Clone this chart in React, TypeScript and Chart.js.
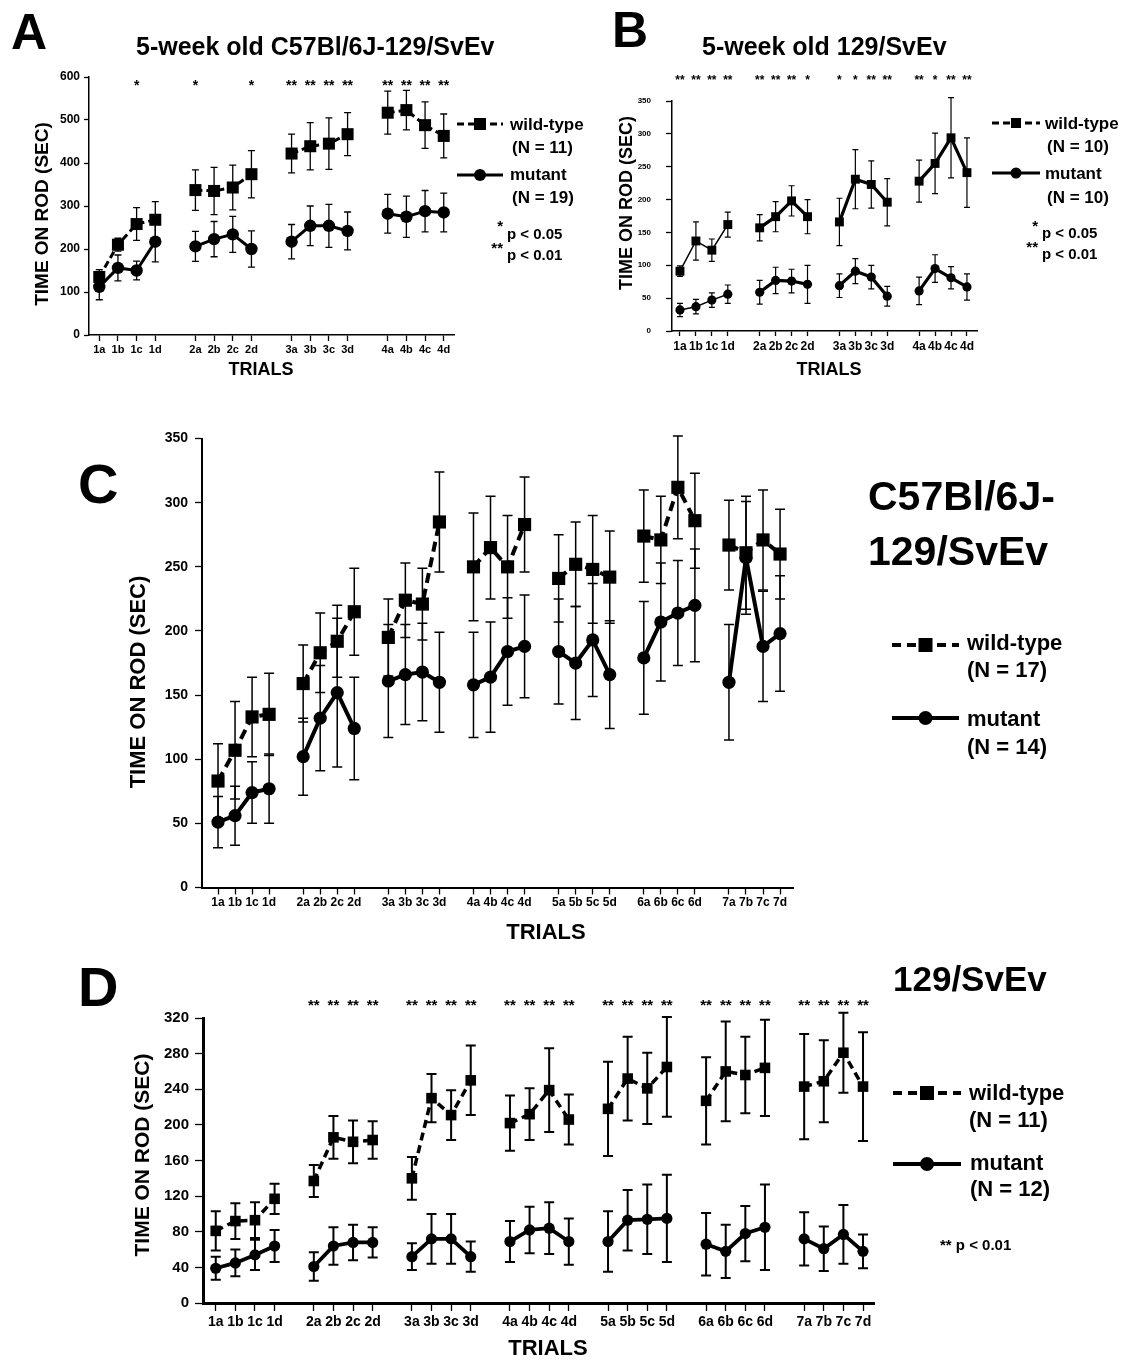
import React, { useEffect, useRef } from "react";
import { Chart, registerables } from "chart.js";
Chart.register(...registerables);

const FONT = '"Liberation Sans", Arial, Helvetica, sans-serif';
Chart.defaults.font.family = FONT;

// ---------------- DATA ----------------
const TRIALS_4 = ["1a","1b","1c","1d","2a","2b","2c","2d","3a","3b","3c","3d","4a","4b","4c","4d"];
const TRIALS_7 = ["1a","1b","1c","1d","2a","2b","2c","2d","3a","3b","3c","3d","4a","4b","4c","4d",
  "5a","5b","5c","5d","6a","6b","6c","6d","7a","7b","7c","7d"];

// Panel A: 5-week old C57Bl/6J-129/SvEv
const aWtMean = [135, 210, 258, 268, 337, 335, 343, 374, 422, 439, 445, 467, 517, 523, 488, 463];
const aWtErr = [17, 15, 38, 42, 47, 55, 52, 55, 45, 55, 60, 50, 50, 46, 54, 51];
const aMutMean = [112, 156, 150, 217, 206, 223, 234, 200, 217, 254, 254, 242, 282, 275, 288, 285];
const aMutErr = [30, 30, 22, 47, 35, 41, 42, 42, 40, 46, 50, 44, 45, 48, 48, 45];
const aStars = ["", "", "*", "", "*", "", "", "*", "**", "**", "**", "**", "**", "**", "**", "**"];
const aYTicks = { max: 600, step: 100 };

// Panel B: 5-week old 129/SvEv
const bWtMean = [91, 137, 123, 162, 157, 174, 198, 174, 166, 231, 223, 196, 228, 255, 294, 241];
const bWtErr = [8, 29, 17, 19, 20, 23, 23, 26, 36, 45, 36, 36, 32, 46, 61, 53];
const bMutMean = [32, 37, 47, 56, 59, 77, 76, 71, 69, 91, 82, 53, 61, 95, 81, 67];
const bMutErr = [10, 11, 11, 14, 18, 20, 18, 29, 18, 19, 18, 15, 21, 21, 17, 20];
const bStars = ["**", "**", "**", "**", "**", "**", "**", "*", "*", "*", "**", "**", "**", "*", "**", "**"];
const bYTicks = { max: 350, step: 50 };

// Panel C: C57Bl/6J-129/SvEv
const cWtMean = [83, 107, 133, 135, 159, 183, 192, 215, 195, 224, 221, 285, 250, 265, 250, 283,
  241, 252, 248, 242, 274, 271, 312, 286, 267, 261, 271, 260];
const cWtErr = [29, 38, 31, 32, 30, 31, 28, 34, 30, 29, 28, 39, 42, 40, 40, 37,
  34, 33, 42, 36, 36, 34, 40, 37, 35, 44, 39, 35];
const cMutMean = [51, 56, 74, 77, 102, 132, 152, 124, 161, 166, 168, 160, 158, 164, 184, 188,
  184, 175, 193, 166, 179, 207, 214, 220, 160, 257, 188, 198];
const cMutErr = [20, 23, 24, 27, 30, 41, 58, 40, 44, 39, 38, 39, 41, 43, 42, 40,
  41, 44, 44, 42, 44, 46, 41, 44, 45, 44, 43, 45];
const cYTicks = { max: 350, step: 50 };

// Panel D: 129/SvEv
const dWtMean = [81, 92, 93, 117, 137, 186, 181, 183, 140, 230, 211, 250, 202, 212, 239, 206,
  218, 252, 241, 265, 227, 260, 256, 264, 243, 249, 281, 243];
const dWtErr = [22, 20, 20, 17, 18, 24, 24, 21, 24, 27, 28, 39, 31, 29, 47, 28,
  53, 47, 40, 56, 49, 56, 43, 54, 59, 46, 45, 61];
const dMutMean = [39, 45, 54, 64, 41, 64, 68, 68, 52, 72, 72, 52, 69, 82, 84, 69,
  69, 93, 94, 95, 66, 58, 78, 85, 72, 61, 77, 58];
const dMutErr = [13, 15, 17, 18, 16, 21, 20, 17, 15, 28, 28, 17, 23, 26, 29, 26,
  34, 34, 39, 49, 35, 30, 31, 48, 30, 25, 33, 19];
const dStars = ["", "", "", "", "**", "**", "**", "**", "**", "**", "**", "**", "**", "**", "**", "**",
  "**", "**", "**", "**", "**", "**", "**", "**", "**", "**", "**", "**"];
const dYTicks = { max: 320, step: 20, labelEvery: 40 };

// ---------------- PLUGINS ----------------
const errorBarPlugin = {
  id: "errorBars",
  beforeDatasetsDraw(chart: any) {
    const ctx = chart.ctx;
    const ys = chart.scales.y;
    chart.data.datasets.forEach((ds: any, di: number) => {
      const errs = ds.errors;
      if (!errs) return;
      const meta = chart.getDatasetMeta(di);
      ctx.save();
      ctx.strokeStyle = "#000";
      ctx.lineWidth = ds.errWidth || 1.3;
      const cap = ds.capWidth || 7;
      meta.data.forEach((pt: any, i: number) => {
        const d = ds.data[i];
        const e = errs[i];
        if (!d || d.y == null || e == null) return;
        const px = pt.x;
        const yt = ys.getPixelForValue(d.y + e);
        const yb = ys.getPixelForValue(d.y - e);
        ctx.beginPath();
        ctx.moveTo(px, yt); ctx.lineTo(px, yb);
        ctx.moveTo(px - cap / 2, yt); ctx.lineTo(px + cap / 2, yt);
        ctx.moveTo(px - cap / 2, yb); ctx.lineTo(px + cap / 2, yb);
        ctx.stroke();
      });
      ctx.restore();
    });
  },
};

const starsPlugin = {
  id: "stars",
  afterDraw(chart: any, _args: any, opts: any) {
    if (!opts || !opts.labels) return;
    const ctx = chart.ctx;
    const xs = chart.scales.x;
    ctx.save();
    ctx.fillStyle = "#000";
    ctx.font = `bold ${opts.size}px ${FONT}`;
    ctx.textAlign = "center";
    ctx.textBaseline = "alphabetic";
    opts.labels.forEach((s: string, i: number) => {
      if (!s) return;
      ctx.fillText(s, xs.getPixelForValue(opts.positions[i]), opts.y + opts.size * 0.57);
    });
    ctx.restore();
  },
};

// ---------------- CONFIG BUILDER ----------------
type Spec = {
  left: number; top: number; W: number; H: number;
  L: number; R: number; T: number; B: number;
  trials: string[]; stride: number; xmin: number; xmax: number;
  wtMean: number[]; wtErr: number[]; mutMean: number[]; mutErr: number[];
  stars?: string[]; starY?: number; starSize?: number;
  yTicks: { max: number; step: number; labelEvery?: number };
  wtDash: number[]; wtWidth: (g: number) => number; mutWidth: (g: number) => number;
  sqR: number; ciR: number; errW: number; capW: number;
  xFont: number; yFont: number; xTickLen: number; yTickLen: number; xPad: number; yPad: number;
  axisW: number;
};

function buildConfig(s: Spec) {
  const positions = s.trials.map((_, i) => Math.floor(i / 4) * s.stride + (i % 4));
  const groups = Math.ceil(s.trials.length / 4);
  const datasets: any[] = [];
  for (let g = 0; g < groups; g++) {
    const idx = [0, 1, 2, 3].map((k) => g * 4 + k);
    datasets.push({
      data: idx.map((i) => ({ x: positions[i], y: s.wtMean[i] })),
      errors: idx.map((i) => s.wtErr[i]),
      borderColor: "#000", backgroundColor: "#000",
      borderWidth: s.wtWidth(g), borderDash: s.wtDash,
      pointStyle: "rect", pointRadius: s.sqR, pointBackgroundColor: "#000",
      pointBorderWidth: 0, pointHoverRadius: s.sqR,
      errWidth: s.errW, capWidth: s.capW, tension: 0, clip: false,
    });
    datasets.push({
      data: idx.map((i) => ({ x: positions[i], y: s.mutMean[i] })),
      errors: idx.map((i) => s.mutErr[i]),
      borderColor: "#000", backgroundColor: "#000",
      borderWidth: s.mutWidth(g),
      pointStyle: "circle", pointRadius: s.ciR, pointBackgroundColor: "#000",
      pointBorderWidth: 0, pointHoverRadius: s.ciR,
      errWidth: s.errW, capWidth: s.capW, tension: 0, clip: false,
    });
  }
  const yt = s.yTicks;
  return {
    type: "line",
    data: { datasets },
    options: {
      animation: false,
      responsive: false,
      events: [],
      layout: { padding: { left: 0, right: s.W - s.R, top: s.T, bottom: 0 } },
      plugins: {
        legend: { display: false },
        tooltip: { enabled: false },
        stars: s.stars ? { labels: s.stars, positions, y: s.starY, size: s.starSize } : {},
      },
      scales: {
        x: {
          type: "linear", min: s.xmin, max: s.xmax,
          afterBuildTicks: (sc: any) => { sc.ticks = positions.map((v) => ({ value: v })); },
          afterFit: (sc: any) => { sc.height = s.H - s.B; },
          ticks: {
            callback: (_v: any, i: number) => s.trials[i],
            autoSkip: false, maxRotation: 0, minRotation: 0,
            padding: s.xPad, color: "#000",
            font: { family: FONT, size: s.xFont, weight: "bold" },
          },
          grid: { drawOnChartArea: false, drawTicks: true, tickLength: s.xTickLen, tickColor: "#000", tickWidth: 1.3 },
          border: { display: true, color: "#000", width: s.axisW },
        },
        y: {
          min: 0, max: yt.max,
          afterFit: (sc: any) => { sc.width = s.L; },
          ticks: {
            stepSize: yt.step, color: "#000", padding: s.yPad,
            callback: (v: number) => (yt.labelEvery ? (v % yt.labelEvery === 0 ? String(v) : "") : String(v)),
            font: { family: FONT, size: s.yFont, weight: "bold" },
          },
          grid: { drawOnChartArea: false, drawTicks: true, tickLength: s.yTickLen, tickColor: "#000", tickWidth: 1.3 },
          border: { display: true, color: "#000", width: s.axisW },
        },
      },
    },
    plugins: [errorBarPlugin, starsPlugin],
  };
}

function Panel({ spec }: { spec: Spec }) {
  const ref = useRef<HTMLCanvasElement | null>(null);
  useEffect(() => {
    const chart = new Chart(ref.current as HTMLCanvasElement, buildConfig(spec) as any);
    return () => chart.destroy();
  }, []);
  return (
    <canvas ref={ref} width={spec.W} height={spec.H}
      style={{ position: "absolute", left: spec.left, top: spec.top, width: spec.W, height: spec.H }} />
  );
}

// ---------------- PANEL SPECS ----------------
const specA: Spec = {
  left: 0, top: 60, W: 600, H: 330, L: 89, R: 454, T: 17, B: 275,
  trials: TRIALS_4, stride: 5.15, xmin: -0.55, xmax: 19.0,
  wtMean: aWtMean, wtErr: aWtErr, mutMean: aMutMean, mutErr: aMutErr,
  stars: aStars, starY: 22, starSize: 14, yTicks: aYTicks,
  wtDash: [7, 4], wtWidth: () => 3, mutWidth: () => 3,
  sqR: 8.5, ciR: 6.2, errW: 1.3, capW: 7,
  xFont: 11, yFont: 12, xTickLen: 6, yTickLen: 5, xPad: 2, yPad: 4, axisW: 1.5,
};
const specB: Spec = {
  left: 600, top: 60, W: 523, H: 330, L: 72, R: 377, T: 41, B: 271,
  trials: TRIALS_4, stride: 5, xmin: -0.5, xmax: 18.63,
  wtMean: bWtMean, wtErr: bWtErr, mutMean: bMutMean, mutErr: bMutErr,
  stars: bStars, starY: 17, starSize: 12, yTicks: bYTicks,
  wtDash: [], wtWidth: (g) => (g === 0 ? 1.5 : 3.2), mutWidth: (g) => (g === 0 ? 1.5 : 3.2),
  sqR: 6.3, ciR: 4.6, errW: 1.2, capW: 6,
  xFont: 12, yFont: 8, xTickLen: 5, yTickLen: 6, xPad: 3, yPad: 15, axisW: 1.5,
};
const specC: Spec = {
  left: 100, top: 420, W: 720, H: 500, L: 102, R: 693, T: 18.6, B: 467.5,
  trials: TRIALS_7, stride: 5, xmin: -0.94, xmax: 33.76,
  wtMean: cWtMean, wtErr: cWtErr, mutMean: cMutMean, mutErr: cMutErr,
  yTicks: cYTicks,
  wtDash: [10, 6], wtWidth: () => 4, mutWidth: () => 4,
  sqR: 9.3, ciR: 6.6, errW: 1.5, capW: 10,
  xFont: 12, yFont: 14, xTickLen: 7, yTickLen: 7, xPad: 1, yPad: 7, axisW: 2,
};
const specD: Spec = {
  left: 100, top: 990, W: 800, H: 372, L: 103, R: 774, T: 28, B: 313,
  trials: TRIALS_7, stride: 5, xmin: -0.65, xmax: 33.56,
  wtMean: dWtMean, wtErr: dWtErr, mutMean: dMutMean, mutErr: dMutErr,
  stars: dStars, starY: 11, starSize: 15, yTicks: dYTicks,
  wtDash: [8, 5], wtWidth: () => 3.5, mutWidth: () => 3.8,
  sqR: 7.5, ciR: 5.6, errW: 2, capW: 10,
  xFont: 14, yFont: 15, xTickLen: 8, yTickLen: 8, xPad: 3, yPad: 6, axisW: 3,
};

// ---------------- TEXT HELPERS ----------------
function Txt({ x, cy, size, children, align = "left" }: any) {
  const tx = align === "center" ? "translateX(-50%)" : align === "right" ? "translateX(-100%)" : "none";
  return (
    <div style={{
      position: "absolute", left: x, top: cy - size * 0.5, fontSize: size, lineHeight: 1,
      fontWeight: "bold", whiteSpace: "nowrap", transform: tx, color: "#000",
    }}>{children}</div>
  );
}
function VTxt({ cx, cy, size, children }: any) {
  return (
    <div style={{
      position: "absolute", left: cx, top: cy, fontSize: size, lineHeight: 1, fontWeight: "bold",
      whiteSpace: "nowrap", transform: "translate(-50%, -50%) rotate(-90deg)", color: "#000",
    }}>{children}</div>
  );
}

function LegendSample({ x1, x2, y, dash, w, marker, size }: any) {
  const mx = (x1 + x2) / 2;
  return (
    <g>
      <line x1={x1} y1={y} x2={x2} y2={y} stroke="#000" strokeWidth={w} strokeDasharray={dash ? dash.join(",") : undefined} />
      {marker === "rect"
        ? <rect x={mx - size / 2} y={y - size / 2} width={size} height={size} fill="#000" />
        : <circle cx={mx} cy={y} r={size / 2} fill="#000" />}
    </g>
  );
}

export default function App() {
  return (
    <div style={{ position: "absolute", left: 0, top: 0, width: 1123, height: 1362, background: "#fff", fontFamily: FONT, overflow: "hidden" }}>
      <Panel spec={specA} />
      <Panel spec={specB} />
      <Panel spec={specC} />
      <Panel spec={specD} />

      <svg width={1123} height={1362} style={{ position: "absolute", left: 0, top: 0, pointerEvents: "none" }}>
        <LegendSample x1={457} x2={503} y={124} dash={[7, 4]} w={3} marker="rect" size={12} />
        <LegendSample x1={457} x2={503} y={175} w={3} marker="circle" size={12} />
        <LegendSample x1={992} x2={1040} y={123} dash={[7, 4]} w={3} marker="rect" size={10} />
        <LegendSample x1={992} x2={1040} y={173} w={3} marker="circle" size={11} />
        <LegendSample x1={892} x2={959} y={645} dash={[9, 6]} w={4} marker="rect" size={14} />
        <LegendSample x1={892} x2={959} y={718} w={4} marker="circle" size={14} />
        <LegendSample x1={893} x2={961} y={1093} dash={[9, 6]} w={4} marker="rect" size={14} />
        <LegendSample x1={893} x2={961} y={1164} w={4} marker="circle" size={14} />
      </svg>

      {/* Panel A texts */}
      <Txt x={11} cy={32} size={50}>A</Txt>
      <Txt x={136} cy={46} size={25}>5-week old C57Bl/6J-129/SvEv</Txt>
      <VTxt cx={41} cy={214} size={19}>TIME ON ROD (SEC)</VTxt>
      <Txt x={261} cy={369} size={18} align="center">TRIALS</Txt>
      <Txt x={510} cy={124} size={17}>wild-type</Txt>
      <Txt x={512} cy={147} size={17}>(N = 11)</Txt>
      <Txt x={510} cy={174} size={17}>mutant</Txt>
      <Txt x={512} cy={197} size={17}>(N = 19)</Txt>
      <Txt x={503} cy={225} size={15} align="right">*</Txt>
      <Txt x={507} cy={233} size={15}>p &lt; 0.05</Txt>
      <Txt x={503} cy={247} size={15} align="right">**</Txt>
      <Txt x={507} cy={254} size={15}>p &lt; 0.01</Txt>

      {/* Panel B texts */}
      <Txt x={612} cy={30} size={50}>B</Txt>
      <Txt x={702} cy={46} size={25}>5-week old 129/SvEv</Txt>
      <VTxt cx={626} cy={203} size={18}>TIME ON ROD (SEC)</VTxt>
      <Txt x={829} cy={369} size={18} align="center">TRIALS</Txt>
      <Txt x={1045} cy={123} size={17}>wild-type</Txt>
      <Txt x={1047} cy={146} size={17}>(N = 10)</Txt>
      <Txt x={1045} cy={173} size={17}>mutant</Txt>
      <Txt x={1047} cy={197} size={17}>(N = 10)</Txt>
      <Txt x={1038} cy={225} size={15} align="right">*</Txt>
      <Txt x={1042} cy={232} size={15}>p &lt; 0.05</Txt>
      <Txt x={1038} cy={246} size={15} align="right">**</Txt>
      <Txt x={1042} cy={253} size={15}>p &lt; 0.01</Txt>

      {/* Panel C texts */}
      <Txt x={78} cy={484} size={56}>C</Txt>
      <Txt x={868} cy={496} size={41}>C57Bl/6J-</Txt>
      <Txt x={868} cy={551} size={41}>129/SvEv</Txt>
      <VTxt cx={138} cy={682} size={22}>TIME ON ROD (SEC)</VTxt>
      <Txt x={546} cy={932} size={22} align="center">TRIALS</Txt>
      <Txt x={967} cy={643} size={22}>wild-type</Txt>
      <Txt x={967} cy={670} size={22}>(N = 17)</Txt>
      <Txt x={967} cy={719} size={22}>mutant</Txt>
      <Txt x={967} cy={747} size={22}>(N = 14)</Txt>

      {/* Panel D texts */}
      <Txt x={78} cy={987} size={56}>D</Txt>
      <Txt x={893} cy={978} size={35}>129/SvEv</Txt>
      <VTxt cx={141} cy={1155} size={21}>TIME ON ROD (SEC)</VTxt>
      <Txt x={548} cy={1348} size={22} align="center">TRIALS</Txt>
      <Txt x={969} cy={1093} size={22}>wild-type</Txt>
      <Txt x={969} cy={1120} size={22}>(N = 11)</Txt>
      <Txt x={970} cy={1163} size={22}>mutant</Txt>
      <Txt x={970} cy={1189} size={22}>(N = 12)</Txt>
      <Txt x={940} cy={1244} size={15}>** p &lt; 0.01</Txt>
    </div>
  );
}
